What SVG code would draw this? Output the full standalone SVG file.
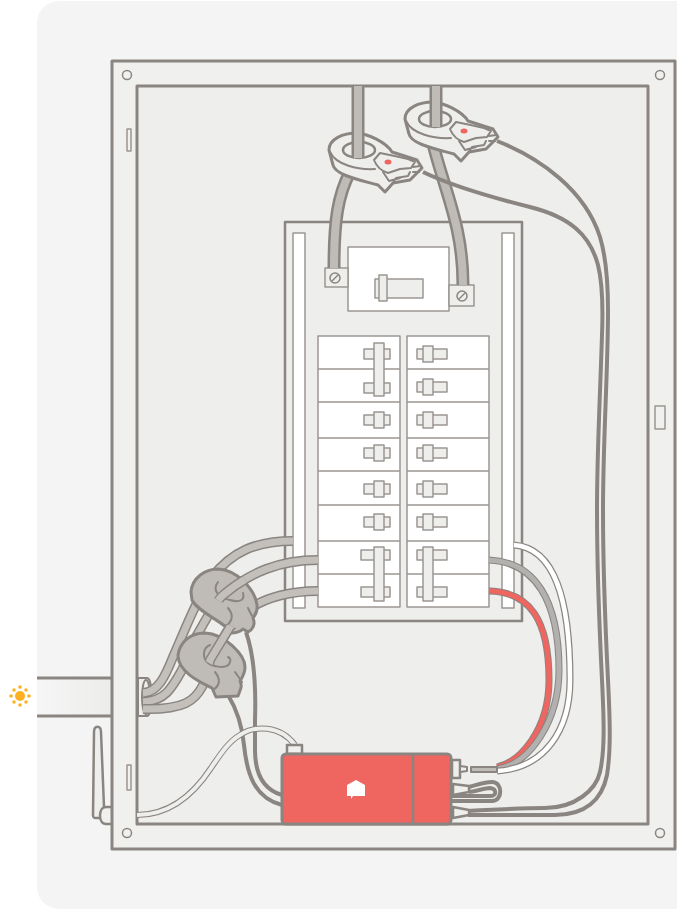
<svg xmlns="http://www.w3.org/2000/svg" width="677" height="909" viewBox="0 0 677 909">
<style>
.s{stroke:#8a8580;stroke-width:3;fill:none;stroke-linejoin:round;stroke-linecap:round}
.h{stroke:#8a8580;stroke-width:2;fill:none;stroke-linejoin:round;stroke-linecap:round}
.t{stroke:#9a9692;stroke-width:1.5;stroke-linejoin:round}
.l{fill:#eeeeed}
.w{fill:#fff}
.g{fill:#bfbbb7}
.n{fill:none;stroke-linecap:butt}
.wo{stroke:#8a8580;stroke-width:10}
.wi{stroke:#c3bfbb;stroke-width:7}
.to{stroke:#8a8580;stroke-width:13}
.ti{stroke:#bfbbb7;stroke-width:8}
.do{stroke:#8a8580;stroke-width:4}
.ro{stroke:#8a8580;stroke-width:7}
.wh{stroke:#fff;stroke-width:4.5}
.gr{stroke:#b3b1af;stroke-width:5}
.re{stroke:#ef6560;stroke-width:5}
</style>
<defs>
<linearGradient id="bar" x1="0" x2="1" y1="0" y2="0"><stop offset="0" stop-color="#f6f6f6"/><stop offset="1" stop-color="#ececeb"/></linearGradient>
<clipPath id="hole-a"><polygon points="214,598 229,606 250,585 236,570"/></clipPath>
<clipPath id="hole-b"><polygon points="222,622 240,630 218,668 200,658"/></clipPath>
<path id="w1" d="M293 541C255 541 232 552 212 577C196 600 185 630 173 657C165 677 158 692 143 693"/>
<path id="w2" d="M318 560C280 560 250 572 222 596C212 606 205 622 197 635L182 670C172 688 165 701 143 702"/>
<path id="w3" d="M318 591C292 591 265 597 248 610L230 627L210 660C208 670 205 682 202 687C195 700 185 710 143 709"/>
<path id="wc" d="M350 172C338 195 334 220 334 268"/>
<path id="wd" d="M432 140C444 190 463 225 463 285"/>
<path id="v1" d="M489 560C535 562 559 600 559 670C559 720 530 765 497 769"/>
<path id="v2" d="M489 591C530 592 549 620 549 680C549 730 520 762 497 767"/>
<path id="v3" d="M514 545C555 548 570 600 570 680C570 730 545 768 497 771"/>
<path id="v4" d="M137 815C165 815 190 800 211 768C220 755 228 742 240 735C255 725 280 725 295 745"/>
<g id="clamp">
<path class="s l" d="M329 150C329 139 343 133 357 133C368 134 386 142 392 152L417 160L422 168L410 180L393 183L385 192L378 185C360 180 335 175 333 165Z"/>
<path class="h" d="M330 152C336 165 358 170 375 169"/>
<ellipse class="s" style="stroke-width:2.5" cx="359" cy="150" rx="16" ry="8"/>
<path class="h" d="M374 160L380 153Q395 156 408 159L415 162L411 168L400 169L388 173Q378 170 374 160Z"/>
<path class="h" d="M383 172L389 181L400 178M393 183L396 178L408 176L410 172M413 167L420 166M413 172L419 172"/>
<ellipse cx="388" cy="162" rx="3.5" ry="2.5" fill="#ef6560"/>
</g>
<g id="bk"><rect class="t l" x="364" y="-5" width="26" height="10"/><rect class="t l" x="374" y="-8" width="10" height="16"/></g>
<g id="br"><rect class="t l" x="417" y="-5" width="30" height="10"/><rect class="t l" x="423" y="-8" width="10" height="16"/></g>
</defs>

<g id="background">
<rect x="37" y="1" width="700" height="908" rx="22" fill="#f4f4f5"/>
<rect x="37" y="678" width="75" height="38" fill="url(#bar)"/>
<path class="s" d="M37 678H112M37 716H112" style="stroke-linecap:butt"/>
</g>

<g id="sun" fill="#fdb022">
<circle cx="20" cy="696" r="5"/>
<circle cx="20" cy="687" r="1.8"/><circle cx="20" cy="705" r="1.8"/><circle cx="11" cy="696" r="1.8"/><circle cx="29" cy="696" r="1.8"/>
<circle cx="14" cy="690" r="1.8"/><circle cx="26" cy="690" r="1.8"/><circle cx="14" cy="702" r="1.8"/><circle cx="26" cy="702" r="1.8"/>
</g>

<g id="antenna">
<path class="s l" d="M94 732C94 725 101 725 101 732L104 807V818L96 818C93 818 93 817 93 815Z" style="stroke-width:2.5"/>
<path class="s" d="M112 807H106C98 807 98 824 106 824H112" style="fill:#f0f0ef;stroke-width:2.5"/>
</g>

<g id="enclosure">
<rect class="s" x="112" y="61" width="563" height="788" style="fill:#f0f0ef"/>
<rect class="s l" x="137" y="86" width="511" height="738"/>
<circle cx="127" cy="75" r="4.5" fill="none" stroke="#8a8580" stroke-width="1.5"/>
<circle cx="660" cy="75" r="4.5" fill="none" stroke="#8a8580" stroke-width="1.5"/>
<circle cx="127" cy="833" r="4.5" fill="none" stroke="#8a8580" stroke-width="1.5"/>
<circle cx="660" cy="833" r="4.5" fill="none" stroke="#8a8580" stroke-width="1.5"/>
<rect class="t" fill="none" x="127" y="129" width="4" height="22"/>
<rect class="t" fill="none" x="127" y="765" width="4" height="25"/>
<rect class="t" fill="none" x="655" y="406" width="10" height="23"/>
</g>

<g id="breaker-panel">
<rect class="s" style="stroke-width:2.5;fill:#eeeeed" x="285" y="222" width="237" height="399"/>
<rect class="t w" x="293" y="233" width="12" height="375"/>
<rect class="t w" x="502" y="233" width="12" height="375"/>
</g>

<g id="main-breaker">
<rect class="t w" x="348" y="247" width="101" height="64"/>
<rect class="t l" x="375" y="279" width="48" height="19"/>
<rect class="t l" x="379" y="275" width="8" height="26"/>
</g>
<g id="lug-left"><rect class="t l" x="325" y="268" width="23" height="19"/><circle cx="335" cy="278" r="5" fill="none" stroke="#8a8580" stroke-width="1.5"/><path d="M332 281L338 275" stroke="#8a8580" stroke-width="1.5"/></g>
<g id="lug-right"><rect class="t l" x="449" y="285" width="25" height="21"/><circle cx="462" cy="296" r="5" fill="none" stroke="#8a8580" stroke-width="1.5"/><path d="M459 299L465 293" stroke="#8a8580" stroke-width="1.5"/></g>

<g id="breakers">
<rect class="t w" x="318" y="336" width="82" height="271"/>
<rect class="t w" x="407" y="336" width="82" height="271"/>
<path class="t" fill="none" d="M318 369H400M318 402H400M318 438H400M318 471H400M318 505H400M318 541H400M318 574H400M407 369H489M407 402H489M407 438H489M407 471H489M407 505H489M407 541H489M407 574H489"/>
<rect class="t l" x="364" y="349" width="26" height="10"/><rect class="t l" x="364" y="383" width="26" height="10"/><rect class="t l" x="374" y="343" width="10" height="53"/>
<use href="#bk" y="420"/><use href="#bk" y="453"/><use href="#bk" y="489"/><use href="#bk" y="522"/>
<rect class="t l" x="361" y="550" width="29" height="10"/><rect class="t l" x="361" y="587" width="29" height="10"/><rect class="t l" x="374" y="547" width="10" height="54"/>
<use href="#br" y="354"/><use href="#br" y="387"/><use href="#br" y="420"/><use href="#br" y="453"/><use href="#br" y="489"/><use href="#br" y="522"/>
<rect class="t l" x="417" y="550" width="30" height="10"/><rect class="t l" x="417" y="587" width="30" height="10"/><rect class="t l" x="423" y="547" width="10" height="54"/>
</g>

<g id="conduit-fitting">
<path class="h" style="fill:#eeeeed" d="M138 678H147C153 678 153 716 147 716H138Z"/>
<ellipse cx="146" cy="697" rx="4" ry="17" fill="#eeeeed" stroke="#8a8580" stroke-width="2"/>
</g>

<g id="connectors" fill="none">
<use href="#wc" class="n to"/><use href="#wc" class="n ti"/>
<use href="#wd" class="n to"/><use href="#wd" class="n ti"/>
<path class="n do" d="M423 172C450 185 490 197 530 207C570 217 590 235 598 265C603 285 603 310 602 335C600 400 597 450 597 510C597 580 600 640 602 680C604 720 605 750 600 772C596 790 575 808 545 808C520 808 490 810 468 811"/>
<path class="n do" d="M497 141C540 158 585 190 600 237C606 257 608 280 608 310C608 370 603 440 603 510C603 580 606 640 608 680C610 720 611 750 607 775C602 800 585 815 555 815C530 815 500 815 468 815"/>
<use href="#v2" class="n ro"/><use href="#v2" class="n re"/>
<use href="#v1" class="n ro"/><use href="#v1" class="n gr"/>
<use href="#v3" class="n ro"/><use href="#v3" class="n wh"/>
<path class="n do" d="M469 787C480 784 485 782 492 782C503 782 503 801 492 801H452"/>
<path class="n do" d="M469 792C478 791 484 788 490 788C497 789 497 796 490 796H452"/>
<use href="#w1" class="n wo"/><use href="#w1" class="n wi"/>
<use href="#w2" class="n wo"/><use href="#w2" class="n wi"/>
<use href="#w3" class="n wo"/><use href="#w3" class="n wi"/>
<path class="n do" d="M228 695C236 708 242 725 244 745C247 775 255 798 282 805"/>
<path class="n do" d="M246 632C254 655 256 690 255 720V750C255 775 265 790 282 795"/>
<use href="#v4" class="n" style="stroke:#8a8580;stroke-width:6"/><use href="#v4" class="n" style="stroke:#eeeeed;stroke-width:4"/>
</g>

<g id="ct-upper">
<path class="s g" d="M191 592C192 578 205 569 218 569C238 570 255 590 257 605C258 612 255 615 253 618C256 625 252 630 248 632L243 629C240 632 235 633 231 633L226 627C215 618 197 610 192 600Z"/>
<path class="h" d="M218 582C212 590 218 598 230 600C240 603 245 600 243 593"/>
<path class="h" d="M228 608C233 614 234 620 225 627M248 608C250 612 251 615 253 617"/>
</g>
<g id="ct-lower">
<path class="s g" d="M178 655C180 642 190 633 205 633C225 634 245 655 245 667C245 672 242 678 240 681C243 686 240 690 238 696L216 697L212 688C200 682 178 672 178 655Z"/>
<path class="h" d="M210 645C202 648 203 658 207 662C212 667 228 670 230 662C231 660 230 658 228 657"/>
<path class="h" d="M215 672C220 678 221 685 213 690M235 672C238 676 240 679 242 682"/>
</g>
<g id="ct-wires" clip-path="url(#hole-a)"><use href="#w2" class="n wo"/><use href="#w2" class="n wi"/></g>
<g id="ct-wires-lower" clip-path="url(#hole-b)"><use href="#w3" class="n wo"/><use href="#w3" class="n wi"/></g>

<g id="clamp-b"><use href="#clamp" x="76" y="-31"/><path class="n to" fill="none" d="M436 86V127"/><path class="n ti" fill="none" d="M436 86V127"/></g>
<g id="clamp-a"><use href="#clamp"/><path class="n to" fill="none" d="M358 86V158"/><path class="n ti" fill="none" d="M358 86V158"/></g>

<g id="monitor">
<rect class="s" style="fill:#f0f0ef;stroke-width:2.5" x="287" y="745" width="15" height="9"/>
<rect class="s" style="fill:#ef6560" x="282" y="754" width="169" height="70" rx="4"/>
<path d="M413 754V824" stroke="#8a8580" stroke-width="2.5"/>
<path d="M356 780L365 785V796H353L351 799V796H347V785Z" fill="#fff"/>
<rect class="s l" style="stroke-width:2.5" x="452" y="760" width="8" height="18"/>
<path class="h l" d="M460 766L467 767V771L460 772Z"/>
<rect class="h g" x="471" y="767" width="26" height="5"/>
<path class="s l" style="stroke-width:2.5" d="M453 784L469 786V792L453 795Z"/>
<path class="s l" style="stroke-width:2.5" d="M453 807L469 810V815L453 818Z"/>
</g>
</svg>
